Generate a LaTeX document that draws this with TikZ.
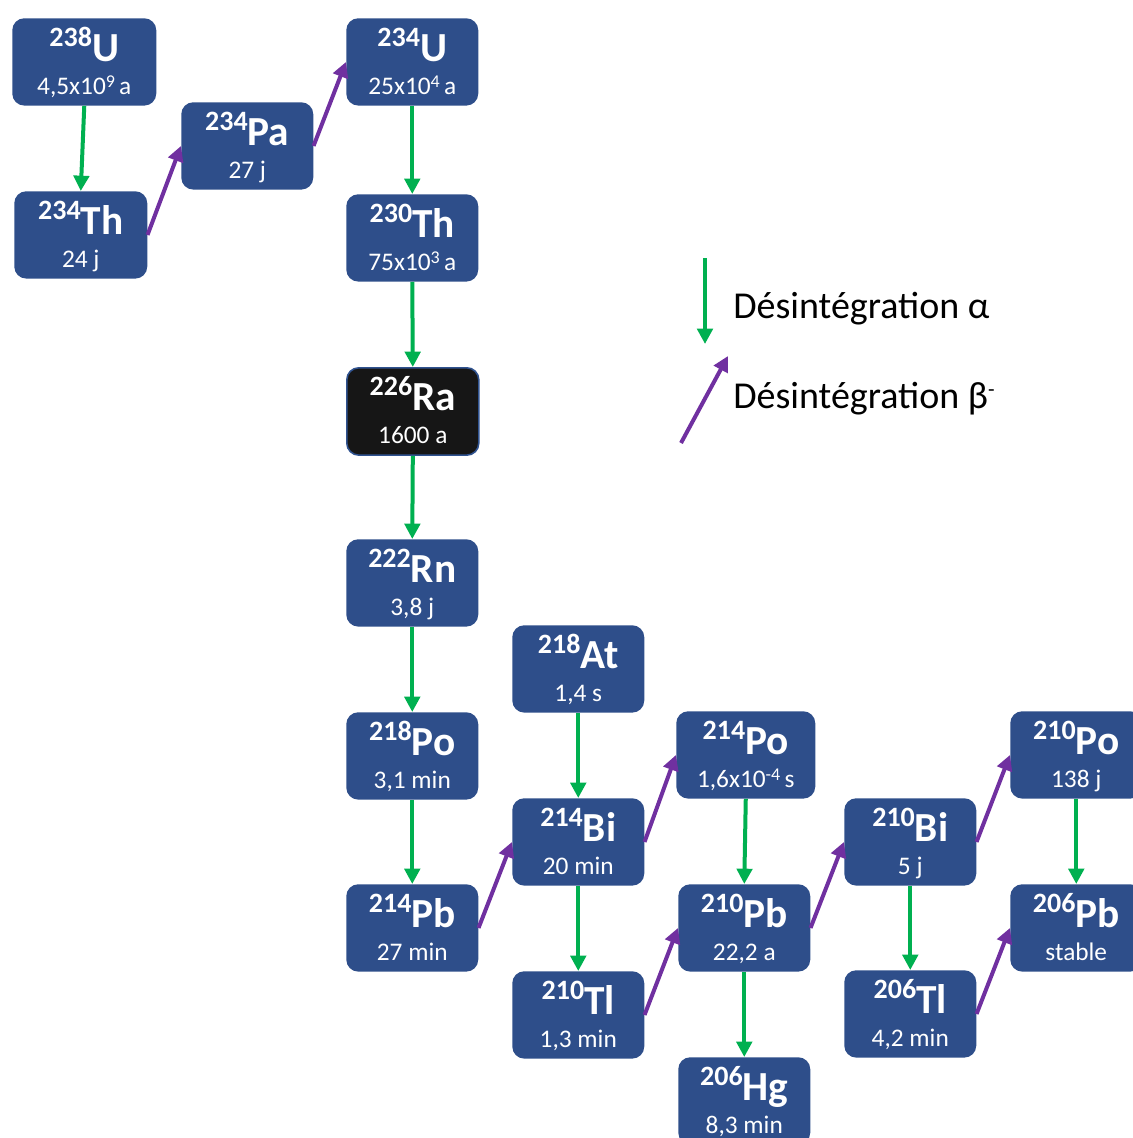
\documentclass[tikz,border=0pt]{standalone}
\usepackage{fontspec}
\setmainfont{Carlito}
\usetikzlibrary{arrows.meta}
\definecolor{boxblue}{RGB}{46,78,138}
\definecolor{agreen}{RGB}{0,176,80}
\definecolor{bpurple}{RGB}{112,48,160}
\definecolor{raBlack}{RGB}{22,22,22}
\definecolor{raEdge}{RGB}{47,82,143}
\tikzset{
  isobox/.style={rounded corners=9pt, fill=boxblue, draw=none, inner sep=0pt, anchor=north west},
  rabox/.style={rounded corners=9pt, fill=raBlack, draw=raEdge, line width=1.2pt, inner sep=0pt, anchor=north west},
  eltext/.style={text=white, anchor=base, inner sep=0pt, font=\fontsize{31}{31}\selectfont\bfseries},
  hltext/.style={text=white, anchor=base, inner sep=0pt, font=\fontsize{19}{19}\selectfont},
  legtext/.style={text=black, anchor=base west, inner sep=0pt, font=\fontsize{28.5}{28.5}\selectfont},
  alpha arrow/.style={draw=agreen, line width=3pt, -{Triangle[length=11.5pt,width=11.5pt]}},
  beta arrow/.style={draw=bpurple, line width=3pt, -{Triangle[length=11.5pt,width=11.5pt]}},
}
\newcommand\mass[1]{\raisebox{11pt}{\fontsize{21}{21}\selectfont\bfseries #1}}
\newcommand\expo[1]{\raisebox{5.5pt}{\fontsize{13.5}{13.5}\selectfont #1}}
% name, left, top, width, mass, element, half-life, style
\newcommand\isotope[8]{%
  \node[#8, minimum width={#4*0.75pt}, minimum height=65.5pt] (#1) at (#2,#3) {};
  \path (#1.north) ++(0,43.5) node[eltext] {\mass{#5}#6};
  \path (#1.north) ++(0,76.5) node[hltext] {#7};
}
\begin{document}
\begin{tikzpicture}[x=0.75pt, y=-0.75pt]
\useasboundingbox (0,0) rectangle (1132,1138);

\isotope{U238}{12}{18}{144}{238}{U}{4,5x10\expo{9}\,a}{isobox}
\isotope{Th234}{14}{191}{133}{234}{Th}{24 j}{isobox}
\isotope{Pa234}{181}{102}{132}{234}{Pa}{27 j}{isobox}
\isotope{U234}{346}{18}{132}{234}{U}{25x10\expo{4}\,a}{isobox}
\isotope{Th230}{346}{194}{132}{230}{Th}{75x10\expo{3}\,a}{isobox}
\isotope{Ra226}{346}{367}{132}{226}{Ra}{1600 a}{rabox}
\isotope{Rn222}{346}{539}{132}{222}{Rn}{3,8 j}{isobox}
\isotope{At218}{512}{625}{132}{218}{At}{1,4 s}{isobox}
\isotope{Po218}{346}{712}{132}{218}{Po}{3,1 min}{isobox}
\isotope{Po214}{676}{711}{139}{214}{Po}{1,6x10\expo{-4}\,s}{isobox}
\isotope{Po210}{1010}{711}{132}{210}{Po}{138 j}{isobox}
\isotope{Bi214}{512}{798}{132}{214}{Bi}{20 min}{isobox}
\isotope{Bi210}{844}{798}{132}{210}{Bi}{5 j}{isobox}
\isotope{Pb214}{346}{884}{132}{214}{Pb}{27 min}{isobox}
\isotope{Pb210}{678}{884}{132}{210}{Pb}{22,2 a}{isobox}
\isotope{Pb206}{1010}{884}{132}{206}{Pb}{stable}{isobox}
\isotope{Tl210}{512}{971}{132}{210}{Tl}{1,3 min}{isobox}
\isotope{Tl206}{844}{970}{132}{206}{Tl}{4,2 min}{isobox}
\isotope{Hg206}{678}{1057}{132}{206}{Hg}{8,3 min}{isobox}

% alpha decays
\draw[alpha arrow] (U238.south) -- (Th234.north);
\draw[alpha arrow] (U234.south) -- (Th230.north);
\draw[alpha arrow] (Th230.south) -- (Ra226.north);
\draw[alpha arrow] (Ra226.south) -- (Rn222.north);
\draw[alpha arrow] (Rn222.south) -- (Po218.north);
\draw[alpha arrow] (Po218.south) -- (Pb214.north);
\draw[alpha arrow] (At218.south) -- (Bi214.north);
\draw[alpha arrow] (Bi214.south) -- (Tl210.north);
\draw[alpha arrow] (Po214.south) -- (Pb210.north);
\draw[alpha arrow] (Pb210.south) -- (Hg206.north);
\draw[alpha arrow] (Bi210.south) -- (Tl206.north);
\draw[alpha arrow] (Po210.south) -- (Pb206.north);

% beta decays
\draw[beta arrow] (Th234.east) -- (Pa234.west);
\draw[beta arrow] (Pa234.east) -- (U234.west);
\draw[beta arrow] (Pb214.east) -- (Bi214.west);
\draw[beta arrow] (Bi214.east) -- (Po214.west);
\draw[beta arrow] (Tl210.east) -- (Pb210.west);
\draw[beta arrow] (Pb210.east) -- (Bi210.west);
\draw[beta arrow] (Bi210.east) -- (Po210.west);
\draw[beta arrow] (Tl206.east) -- (Pb206.west);

% legend
\coordinate (la1) at (705,258);
\coordinate (la2) at (705,344);
\coordinate (lb1) at (681,443);
\coordinate (lb2) at (728,356);
\draw[alpha arrow] (la1) -- (la2);
\draw[beta arrow] (lb1) -- (lb2);
\node[legtext] (legA) at (733,318) {Désintégration α};
\node[legtext] (legB) at (733,408) {Désintégration β\raisebox{9pt}{\fontsize{16}{16}\selectfont -}};
\end{tikzpicture}
\end{document}
